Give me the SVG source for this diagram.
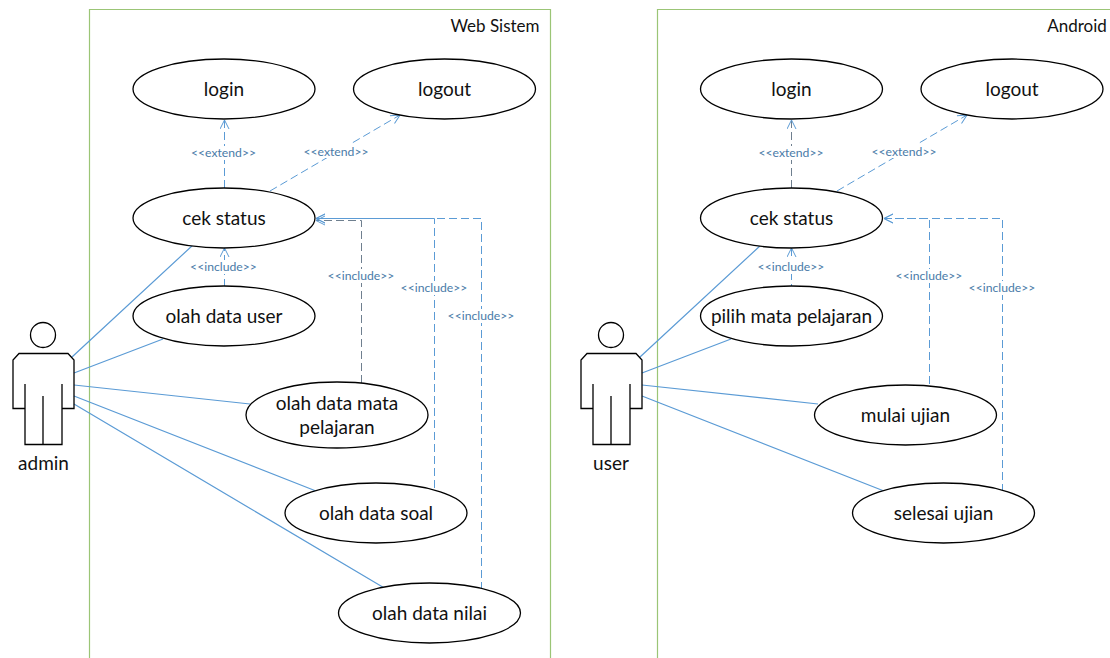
<svg xmlns="http://www.w3.org/2000/svg" width="1110" height="658" viewBox="0 0 1110 658">
<defs>
<marker id="arr" markerWidth="12" markerHeight="12" refX="10" refY="5" orient="auto" markerUnits="userSpaceOnUse"><path d="M1 0.5L10 5L1 9.5" fill="none" stroke="#5b9bd5" stroke-width="1"/></marker>
</defs>
<style>
text{font-family:Lato,"Liberation Sans",sans-serif;text-anchor:middle}
.uc{fill:#fff;stroke:#000;stroke-width:1.3}
.t{font-size:19px;fill:#111}
.h{font-size:17px;fill:#111}
.sys{fill:none;stroke:#9bc576;stroke-width:1.2}
.a{stroke:#5b9bd5;stroke-width:1.2;fill:none}
.d{stroke:#5b9bd5;stroke-width:1;fill:none;stroke-dasharray:8 4;marker-end:url(#arr)}
.g{stroke:#6f7f8f}
.l{font-size:12.2px;fill:#4a7ba8}
.ln{fill:none;stroke:#000;stroke-width:1.3}
.bg{fill:#fff}
</style>
<rect width="1110" height="658" fill="#fff"/>
<g id="system-web"><path class="sys" d="M89.500 658V9.500H550.500V658"/><text class="h" x="495" y="32">Web Sistem</text></g>
<g id="system-android"><path class="sys" d="M657.500 658V9.500H1118V658"/><text class="h" x="1077" y="32">Android</text></g>
<g id="connectors">
<path class="a" d="M72 357L193 245M74 373L163 339M74 385L250 404M74 396L316 491M74 404L386 589"/>
<path class="d" d="M224.500 188V120"/><path class="d" d="M270 191L400 115"/>
<path class="d" d="M224.500 287V248"/>
<path class="d g" d="M361.500 383V220.500H316"/>
<path class="d" d="M434.500 488V218.500H316"/>
<path class="d" d="M481.500 590V218.500H316"/>
<path class="a" d="M640 357L761 245M642 373L731 339M642 385L818 404M642 396L884 491"/>
<path class="d g" d="M791.500 188V120"/><path class="d" d="M837 191L967 115"/>
<path class="d" d="M791.500 292V248"/>
<path class="d" d="M929.500 384V218.500H884"/>
<path class="d" d="M1002.500 492V218.500H884"/>
<g>
<rect class="bg" x="190" y="146" width="67" height="14"/><text class="l" x="223.500" y="157">&lt;&lt;extend&gt;&gt;</text>
<rect class="bg" x="303" y="144" width="67" height="14"/><text class="l" x="336" y="156">&lt;&lt;extend&gt;&gt;</text>
<rect class="bg" x="189" y="260" width="69" height="14"/><text class="l" x="223.500" y="271">&lt;&lt;include&gt;&gt;</text>
<rect class="bg" x="327" y="269" width="68" height="14"/><text class="l" x="361" y="280">&lt;&lt;include&gt;&gt;</text>
<rect class="bg" x="400" y="281" width="68" height="14"/><text class="l" x="434" y="292">&lt;&lt;include&gt;&gt;</text>
<rect class="bg" x="447" y="309" width="68" height="14"/><text class="l" x="481" y="320">&lt;&lt;include&gt;&gt;</text>
<rect class="bg" x="757" y="146" width="67" height="14"/><text class="l" x="791" y="157">&lt;&lt;extend&gt;&gt;</text>
<rect class="bg" x="871" y="144" width="67" height="14"/><text class="l" x="904" y="156">&lt;&lt;extend&gt;&gt;</text>
<rect class="bg" x="757" y="260" width="69" height="14"/><text class="l" x="791" y="271">&lt;&lt;include&gt;&gt;</text>
<rect class="bg" x="895" y="269" width="68" height="14"/><text class="l" x="929" y="280">&lt;&lt;include&gt;&gt;</text>
<rect class="bg" x="968" y="281" width="68" height="14"/><text class="l" x="1002" y="292">&lt;&lt;include&gt;&gt;</text>
</g>
</g>
<g id="actor-admin"><circle class="ln" cx="43" cy="335" r="12.500"/><path class="ln" d="M19 353.500H68L74 360V408.500H62V444.500H25V408.500H13V360ZM25 384V408M62 384V408M43 396V444"/><text class="t" x="43.500" y="470">admin</text></g>
<g id="actor-user"><circle class="ln" cx="611" cy="335" r="12.500"/><path class="ln" d="M587 353.500H636L642 360V408.500H630V444.500H593V408.500H581V360ZM593 384V408M630 384V408M611 396V444"/><text class="t" x="611" y="470">user</text></g>
<g id="uc-login"><ellipse class="uc" cx="224" cy="89" rx="91" ry="30"/><text class="t" x="224" y="95.500">login</text></g>
<g id="uc-logout"><ellipse class="uc" cx="444.500" cy="89" rx="91" ry="30"/><text class="t" x="444.500" y="95.500">logout</text></g>
<g id="uc-cek"><ellipse class="uc" cx="224" cy="218" rx="91" ry="30"/><text class="t" x="224" y="224.500">cek status</text></g>
<g id="uc-user"><ellipse class="uc" cx="224" cy="316" rx="91" ry="30"/><text class="t" x="224" y="322.500">olah data user</text></g>
<g id="uc-mapel"><ellipse class="uc" cx="337" cy="415" rx="91" ry="33"/><text class="t" x="337" y="409.500">olah data mata</text><text class="t" x="337" y="433.500">pelajaran</text></g>
<g id="uc-soal"><ellipse class="uc" cx="376" cy="513" rx="91" ry="30"/><text class="t" x="376" y="519.500">olah data soal</text></g>
<g id="uc-nilai"><ellipse class="uc" cx="429.500" cy="613" rx="91" ry="30"/><text class="t" x="429.500" y="619.500">olah data nilai</text></g>
<g id="uc-login2"><ellipse class="uc" cx="791.500" cy="89" rx="91" ry="30"/><text class="t" x="791.500" y="95.500">login</text></g>
<g id="uc-logout2"><ellipse class="uc" cx="1012" cy="89" rx="91" ry="30"/><text class="t" x="1012" y="95.500">logout</text></g>
<g id="uc-cek2"><ellipse class="uc" cx="791.500" cy="218" rx="91" ry="30"/><text class="t" x="791.500" y="224.500">cek status</text></g>
<g id="uc-pilih"><ellipse class="uc" cx="791.500" cy="316" rx="91" ry="30"/><text class="t" x="791.500" y="322.500">pilih mata pelajaran</text></g>
<g id="uc-mulai"><ellipse class="uc" cx="905.500" cy="415" rx="91" ry="30"/><text class="t" x="905.500" y="421.500">mulai ujian</text></g>
<g id="uc-selesai"><ellipse class="uc" cx="943.500" cy="513" rx="91" ry="30"/><text class="t" x="943.500" y="519.500">selesai ujian</text></g>
</svg>
